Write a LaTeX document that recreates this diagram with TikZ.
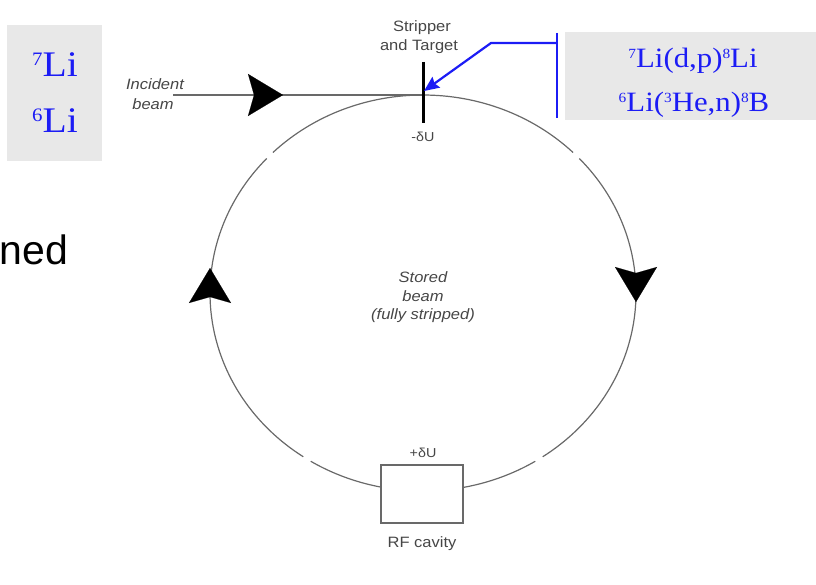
\documentclass[tikz,border=0pt]{standalone}
\usepackage{fontspec}
\setmainfont{Liberation Serif}
\newfontfamily\lblfont[FakeStretch=1.1]{Liberation Sans}
\newfontfamily\isofont[FakeStretch=1.1]{Liberation Serif}
\newfontfamily\slidefont{Liberation Sans}
\usetikzlibrary{arrows.meta}

% mass numbers, top-aligned with the capitals
\newcommand\massbig[1]{\raisebox{11pt}{\fontsize{19}{19}\selectfont #1}}
\newcommand\massmid[1]{\raisebox{9pt}{\fontsize{14}{14}\selectfont #1}}

\definecolor{ringgray}{RGB}{105,105,105}
\definecolor{labelgray}{RGB}{70,70,70}
\definecolor{isoblue}{RGB}{28,28,245}
\definecolor{panelgray}{RGB}{232,232,232}

\tikzset{
  panel/.style={fill=panelgray, draw=none, inner sep=0pt},
  isobig/.style={text=isoblue, inner sep=0pt, anchor=base,
    font=\isofont\fontsize{36}{36}\selectfont},
  isomid/.style={text=isoblue, inner sep=0pt, anchor=base,
    font=\isofont\fontsize{28}{28}\selectfont},
  lbl/.style={text=labelgray, inner sep=0pt, anchor=base,
    font=\lblfont\fontsize{15}{15}\selectfont},
  ilbl/.style={lbl, font=\lblfont\itshape\fontsize{15}{15}\selectfont},
  slbl/.style={lbl, font=\lblfont\fontsize{13}{13}\selectfont},
  ring/.style={draw=ringgray, line width=1.2pt},
  beamtip/.style={line width=0.1pt, draw=black,
    -{Stealth[length=35pt, width=42pt, inset=6pt, black]}},
  pointer/.style={draw=isoblue, line width=2.2pt},
}

\begin{document}
\begin{tikzpicture}[x=1pt, y=-1pt]
\useasboundingbox (0,0) rectangle (816,585);

% isotope panels
\node[panel, minimum width=95pt, minimum height=136pt] (beams) at (54.5,93) {};
\node[isobig] (li7) at (55,77) {\massbig{7}Li};
\node[isobig] (li6) at (55,133) {\massbig{6}Li};

\node[panel, minimum width=252pt, minimum height=88pt] (reac) at (691,76) {};
\node[isomid] (r1) at (693,68) {\massmid{7}Li(d,p)\massmid{8}Li};
\node[isomid] (r2) at (694,112) {\massmid{6}Li(\massmid{3}He,n)\massmid{8}B};

% leftover slide text
\node[inner sep=0pt, anchor=base east, font=\slidefont\fontsize{41}{41}\selectfont] (ned) at (68.5,265) {ned};

% storage ring (center c), drawn in four arcs with small gaps
\coordinate (c) at (423,293);
\draw[ring] ([shift={(c)}]-42.8:213 and 198) arc[start angle=-42.8, end angle=55.8, x radius=213, y radius=198];
\draw[ring] ([shift={(c)}]58.2:213 and 198) arc[start angle=58.2, end angle=121.8, x radius=213, y radius=198];
\draw[ring] ([shift={(c)}]124.2:213 and 198) arc[start angle=124.2, end angle=222.8, x radius=213, y radius=198];
\draw[ring] ([shift={(c)}]225.2:213 and 198) arc[start angle=225.2, end angle=314.8, x radius=213, y radius=198];

% incident beam
\coordinate (inj) at (173,95);
\coordinate (top) at (424,95);
\draw[ring, line width=1.5pt] (inj) -- (top);
\coordinate (injtail) at (260,95);
\coordinate (injtip) at (283,95);
\draw[beamtip] (injtail) -- (injtip);

% circulation arrows on the ring
\coordinate (ltail) at (210,290);
\coordinate (ltip) at (210,268);
\draw[beamtip] (ltail) -- (ltip);
\coordinate (rtail) at (636,280);
\coordinate (rtip) at (636,302);
\draw[beamtip] (rtail) -- (rtip);

% stripper foil
\coordinate (s1) at (423,62);
\coordinate (s2) at (423,123);
\draw[black, line width=3pt] (s1) -- (s2);
\coordinate (strip) at (424,91);

% RF cavity
\node[draw=ringgray, fill=white, line width=1.4pt, minimum width=82pt,
      minimum height=58pt, inner sep=0pt] (rf) at (422,494) {};

% labels
\node[ilbl] (inc1) at (155,90) {Incident};
\node[ilbl] (inc2) at (153,110) {beam};
\node[lbl] (st1) at (422,32) {Stripper};
\node[lbl] (st2) at (419,51) {and Target};
\node[slbl] (mdu) at (423,142) {-δU};
\node[slbl] (pdu) at (423,457) {+δU};
\node[ilbl] (sb1) at (423,282) {Stored};
\node[ilbl] (sb2) at (423,301) {beam};
\node[ilbl] (sb3) at (423,319) {(fully stripped)};
\node[lbl] (rfl) at (422,547) {RF cavity};

% pointer from the reactions panel to the target
\coordinate (bartop) at (557,33);
\coordinate (barbot) at (557,118);
\coordinate (bend) at (491,43);
\coordinate (barmid) at (557,43);
\draw[pointer] (bartop) -- (barbot);
\draw[pointer, -{Stealth[length=15pt, width=13pt, inset=2pt]}] (barmid) -- (bend) -- (strip);
\end{tikzpicture}
\end{document}
